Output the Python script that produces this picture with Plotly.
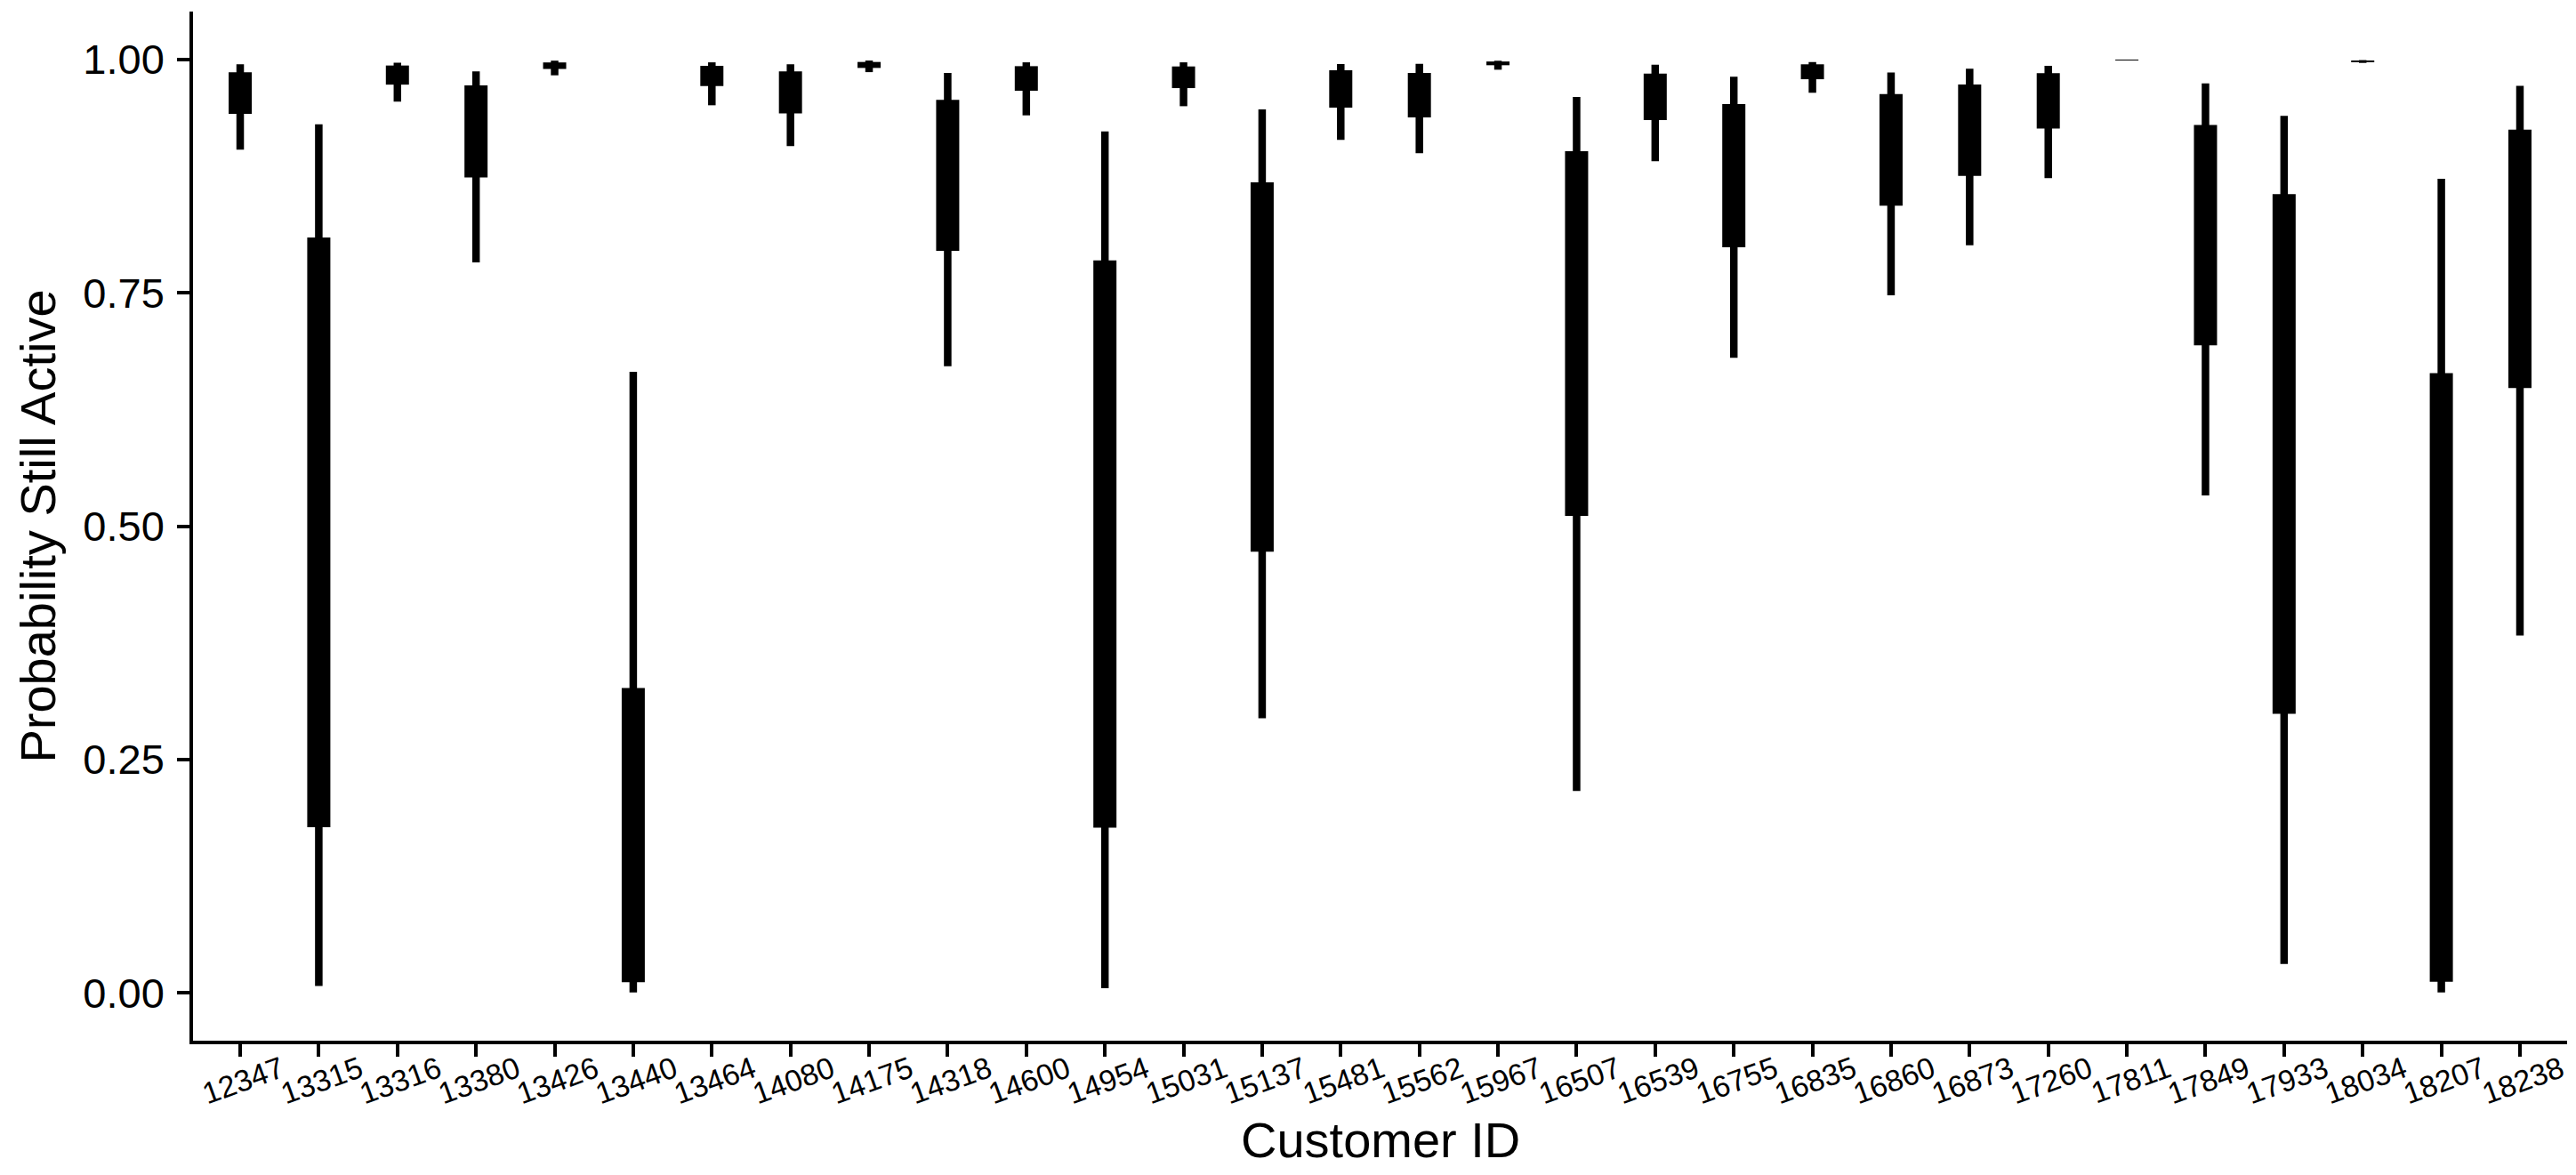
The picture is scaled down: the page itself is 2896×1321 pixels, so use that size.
import plotly.graph_objects as go

customers = ["12347","13315","13316","13380","13426","13440","13464","14080","14175","14318",
             "14600","14954","15031","15137","15481","15562","15967","16507","16539","16755",
             "16835","16860","16873","17260","17811","17849","17933","18034","18207","18238"]

lo_outer = [0.9035,0.0076,0.9550,0.7827,0.9832,0.0007,0.9511,0.9073,0.9866,0.6715,
            0.9403,0.0051,0.9501,0.2943,0.9140,0.8997,0.9892,0.2165,0.8911,0.6805,
            0.9645,0.7475,0.8011,0.8730,0.9991,0.5330,0.0311,0.9965,0.0005,0.3830]
hi_outer = [0.9950,0.9307,0.9967,0.9875,0.9989,0.6655,0.9971,0.9950,0.9990,0.9857,
            0.9971,0.9231,0.9971,0.9466,0.9953,0.9955,0.9988,0.9600,0.9946,0.9816,
            0.9974,0.9862,0.9902,0.9933,0.9997,0.9746,0.9397,0.9995,0.8723,0.9720]
lo_inner = [0.9418,0.1776,0.9732,0.8738,0.9900,0.0116,0.9717,0.9425,0.9911,0.7951,
            0.9667,0.1771,0.9695,0.4727,0.9485,0.9380,0.9940,0.5111,0.9352,0.7990,
            0.9790,0.8434,0.8755,0.9263,0.9993,0.6938,0.2992,0.9975,0.0121,0.6481]
hi_inner = [0.9864,0.8094,0.9937,0.9724,0.9970,0.3267,0.9933,0.9873,0.9975,0.9568,
            0.9930,0.7850,0.9927,0.8685,0.9886,0.9857,0.9980,0.9019,0.9850,0.9524,
            0.9950,0.9632,0.9733,0.9854,0.9996,0.9301,0.8558,0.9990,0.6640,0.9250]

y_tickvals = [0, 0.25, 0.5, 0.75, 1.0]
y_ticktext = ["0.00", "0.25", "0.50", "0.75", "1.00"]

FONT = "Liberation Sans, Arial, Helvetica, sans-serif"

fig = go.Figure()
fig.add_trace(go.Bar(
    x=customers,
    y=[h - l for h, l in zip(hi_outer, lo_outer)],
    base=lo_outer,
    width=0.096,
    marker=dict(color="black", line=dict(width=0)),
    showlegend=False,
    name="95%"
))
fig.add_trace(go.Bar(
    x=customers,
    y=[h - l for h, l in zip(hi_inner, lo_inner)],
    base=lo_inner,
    width=0.294,
    marker=dict(color="black", line=dict(width=0)),
    showlegend=False,
    name="50%"
))

# page body has an 8px margin, so the figure is sized/positioned to compensate
fig.update_layout(
    width=2880, height=1305,
    margin=dict(l=209, r=2, t=5, b=143, autoexpand=False),
    plot_bgcolor="white", paper_bgcolor="white",
    barmode="overlay",
    font=dict(family=FONT, color="black"),
    annotations=[dict(
        text="Customer ID", xref="paper", yref="paper", x=0.5, y=0,
        xanchor="center", yanchor="top", yshift=-78, showarrow=False,
        font=dict(size=56, family=FONT, color="black"),
    )],
)

fig.update_xaxes(
    type="category",
    categoryorder="array", categoryarray=customers,
    range=[-0.6, 29.6],
    showgrid=False, zeroline=False,
    showline=True, linecolor="black", linewidth=3.5,
    ticks="outside", ticklen=14, tickwidth=3.5, tickcolor="black",
    tickangle=-20,
    ticklabelshift=46,
    ticklabelstandoff=-18,
    tickfont=dict(size=34, family=FONT, color="black"),
    automargin=False,
)
fig.update_yaxes(
    range=[-0.0511, 1.0515],
    tickvals=y_tickvals, ticktext=y_ticktext,
    showgrid=False, zeroline=False,
    showline=True, linecolor="black", linewidth=3.5,
    ticks="outside", ticklen=14, tickwidth=3.5, tickcolor="black",
    ticklabelstandoff=5,
    tickfont=dict(size=47, family=FONT, color="black"),
    title=dict(text="Probability Still Active", font=dict(size=56, family=FONT, color="black"), standoff=14),
    automargin=False,
)

fig.write_html("out.html")
